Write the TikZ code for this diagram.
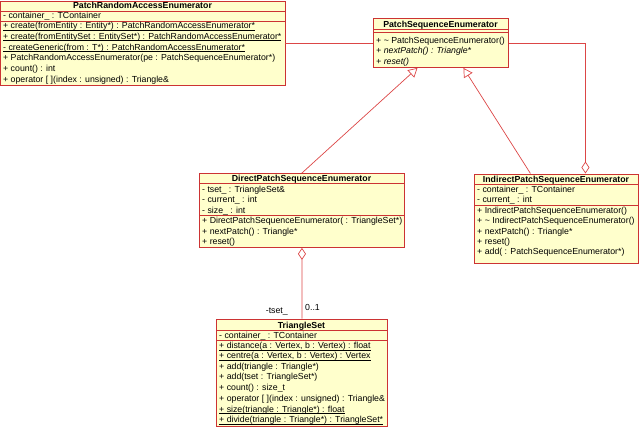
\documentclass[tikz,border=0pt]{standalone}
\usepackage{fontspec}
\setmainfont{Liberation Sans}
\usetikzlibrary{arrows.meta,calc}
\definecolor{umlred}{RGB}{204,51,51}
\definecolor{umlfill}{RGB}{255,255,204}
\definecolor{umlline}{RGB}{220,70,70}
\newcommand\ulstatic[1]{\underline{\smash{#1}}}
\begin{document}
\begin{tikzpicture}[x=1bp,y=-1bp,
 classbox/.style={draw=umlred, fill=umlfill, line width=0.9bp, inner sep=0pt, anchor=north west},
 sep/.style={draw=umlred, line width=0.9bp},
 row/.style={anchor=west, inner sep=0pt, text height=6.4bp, text depth=1.4bp, font=\fontsize{8.8}{10}\selectfont},
 ttl/.style={anchor=center, inner sep=0pt, text height=6.4bp, text depth=0bp, font=\fontsize{8.8}{10}\selectfont\bfseries},
 conn/.style={draw=umlline, line width=0.7bp},
 gen/.style={conn, -{Triangle[open, length=9bp, width=10bp]}},
 agg/.style={conn, -{Diamond[open, length=12bp, width=8bp]}},
 lbl/.style={inner sep=0pt, text height=6.4bp, text depth=1.4bp, font=\fontsize{8.8}{10}\selectfont}]
\useasboundingbox (0,0) rectangle (640,426);

% PatchRandomAccessEnumerator
\node[classbox, minimum width=284bp, minimum height=84.5bp] (pra) at (0.5,0.5) {};
\draw[sep] (0.5,11) -- (284.5,11);
\draw[sep] (0.5,21) -- (284.5,21);
\node[ttl] (pra-t) at (142.5,5.5) {PatchRandomAccessEnumerator};
\node[row] (pra-a1) at (3,16) {- container\_ : TContainer};
\node[row] (pra-m1) at (3,26) {\ulstatic{+ create(fromEntity : Entity*) : PatchRandomAccessEnumerator*}};
\node[row] (pra-m2) at (3,36.7) {\ulstatic{+ create(fromEntitySet : EntitySet*) : PatchRandomAccessEnumerator*}};
\node[row] (pra-m3) at (3,47.5) {\ulstatic{- createGeneric(from : T*) : PatchRandomAccessEnumerator*}};
\node[row] (pra-m4) at (3,58) {+ PatchRandomAccessEnumerator(pe : PatchSequenceEnumerator*)};
\node[row] (pra-m5) at (3,69) {+ count() : int};
\node[row] (pra-m6) at (3,79.5) {+ operator [ ](index : unsigned) : Triangle\&};

% PatchSequenceEnumerator
\node[classbox, minimum width=135bp, minimum height=49bp] (pse) at (373,18) {};
\draw[sep] (373,29.5) -- (508,29.5);
\draw[sep] (373,32) -- (508,32);
\node[ttl] (pse-t) at (440.5,24) {PatchSequenceEnumerator};
\node[row] (pse-m1) at (376,40.5) {+ \textasciitilde{} PatchSequenceEnumerator()};
\node[row] (pse-m2) at (376,51) {\itshape + nextPatch() : Triangle*};
\node[row] (pse-m3) at (376,61.5) {\itshape + reset()};

% DirectPatchSequenceEnumerator
\node[classbox, minimum width=205bp, minimum height=74bp] (dpse) at (199,173) {};
\draw[sep] (199,183.5) -- (404,183.5);
\draw[sep] (199,215.7) -- (404,215.7);
\node[ttl] (dpse-t) at (301.5,178.5) {DirectPatchSequenceEnumerator};
\node[row] (dpse-a1) at (202,189.8) {- tset\_ : TriangleSet\&};
\node[row] (dpse-a2) at (202,200.3) {- current\_ : int};
\node[row] (dpse-a3) at (202,210.7) {- size\_ : int};
\node[row] (dpse-m1) at (202,221) {+ DirectPatchSequenceEnumerator( : TriangleSet*)};
\node[row] (dpse-m2) at (202,231.5) {+ nextPatch() : Triangle*};
\node[row] (dpse-m3) at (202,242) {+ reset()};

% IndirectPatchSequenceEnumerator
\node[classbox, minimum width=164bp, minimum height=89bp] (ipse) at (474,173.5) {};
\draw[sep] (474,184) -- (638,184);
\draw[sep] (474,205.3) -- (638,205.3);
\node[ttl] (ipse-t) at (556,179) {IndirectPatchSequenceEnumerator};
\node[row] (ipse-a1) at (477,189.8) {- container\_ : TContainer};
\node[row] (ipse-a2) at (477,200) {- current\_ : int};
\node[row] (ipse-m1) at (477,210.8) {+ IndirectPatchSequenceEnumerator()};
\node[row] (ipse-m2) at (477,221.3) {+ \textasciitilde{} IndirectPatchSequenceEnumerator()};
\node[row] (ipse-m3) at (477,231.5) {+ nextPatch() : Triangle*};
\node[row] (ipse-m4) at (477,241.5) {+ reset()};
\node[row] (ipse-m5) at (477,252) {+ add( : PatchSequenceEnumerator*)};

% TriangleSet
\node[classbox, minimum width=171bp, minimum height=107bp] (ts) at (216,318.5) {};
\draw[sep] (216,330.5) -- (387,330.5);
\draw[sep] (216,340.5) -- (387,340.5);
\node[ttl] (ts-t) at (301.5,324.8) {TriangleSet};
\node[row] (ts-a1) at (219,335.5) {- container\_ : TContainer};
\node[row] (ts-m1) at (219,345.8) {\ulstatic{+ distance(a : Vertex, b : Vertex) : float}};
\node[row] (ts-m2) at (219,356.3) {\ulstatic{+ centre(a : Vertex, b : Vertex) : Vertex}};
\node[row] (ts-m3) at (219,366.8) {+ add(triangle : Triangle*)};
\node[row] (ts-m4) at (219,377.3) {+ add(tset : TriangleSet*)};
\node[row] (ts-m5) at (219,387.8) {+ count() : size\_t};
\node[row] (ts-m6) at (219,398.8) {+ operator [ ](index : unsigned) : Triangle\&};
\node[row] (ts-m7) at (219,409.5) {\ulstatic{+ size(triangle : Triangle*) : float}};
\node[row] (ts-m8) at (219,420.2) {\ulstatic{+ divide(triangle : Triangle*) : TriangleSet*}};

% connectors
\draw[conn] (pra.east |- pse.west) -- (pse.west);
\draw[gen] (dpse.north) -- ([xshift=-23.5bp]pse.south);
\draw[gen] ([xshift=-26bp]ipse.north) -- ([xshift=22.5bp]pse.south);
\draw[agg] (ts.north) -- (dpse.south);
\draw[agg] (pse.east) -| ([xshift=29bp]ipse.north);

\node[lbl, anchor=east] (lrole) at (288,311) {-tset\_};
\node[lbl, anchor=west] (lmult) at (305,307.5) {0..1};
\end{tikzpicture}
\end{document}
